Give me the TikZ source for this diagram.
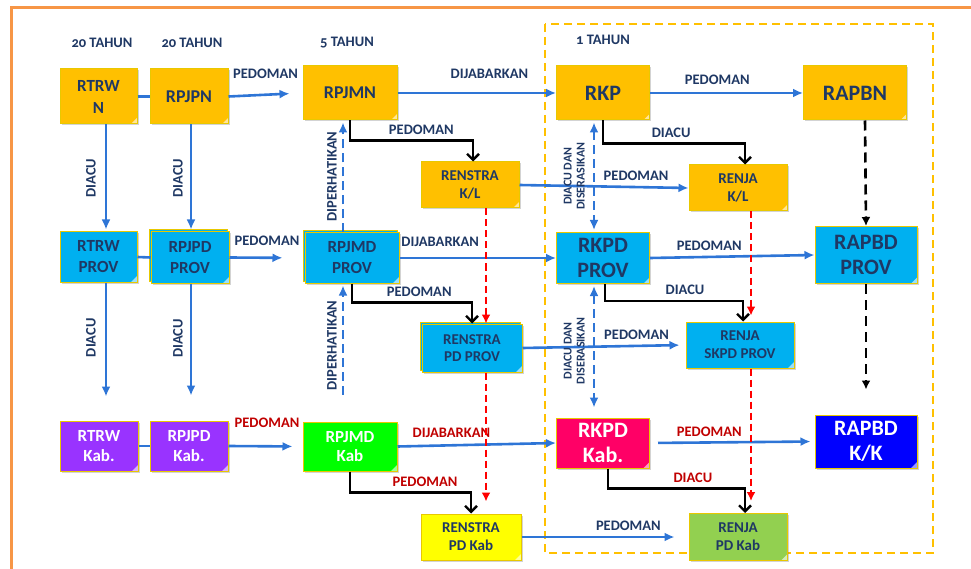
\documentclass[tikz,border=0pt]{standalone}
\usepackage{fontspec}
\setmainfont{Carlito}
\usepackage{xcolor}
\usetikzlibrary{arrows.meta}
\usetikzlibrary{shadows}
\definecolor{navy}{RGB}{31,56,100}
\definecolor{darkred}{RGB}{192,0,0}
\definecolor{frameorange}{RGB}{247,150,70}
\definecolor{goldfill}{RGB}{255,192,0}
\definecolor{cyanfill}{RGB}{0,176,240}
\definecolor{purplefill}{RGB}{153,51,255}
\definecolor{greenfill}{RGB}{0,255,0}
\definecolor{pinkfill}{RGB}{255,0,102}
\definecolor{bluefill}{RGB}{0,0,255}
\definecolor{limefill}{RGB}{146,208,80}
\definecolor{yellowfill}{RGB}{255,255,0}
\definecolor{boxedge}{RGB}{232,200,0}
\definecolor{arrowblue}{RGB}{46,117,214}

\begin{document}
\begin{tikzpicture}[
		x=1pt, y=-1pt,
		every node/.style={font=\bfseries},
		doc/.style={rectangle, draw=boxedge, line width=1pt, inner sep=0pt, align=center, text=navy,
				drop shadow={opacity=0.35, shadow xshift=1.5pt, shadow yshift=-1.5pt},
				path picture={\fill[white, opacity=0.6] ([xshift=-6pt]path picture bounding box.south east)
						-- ([yshift=6pt]path picture bounding box.south east) -- (path picture bounding box.south east) -- cycle;}},
		stacked/.style={copy shadow={shadow xshift=-2pt, shadow yshift=2pt}},
		boxdim/.style 2 args={minimum width=#1pt, minimum height=#2pt},
		fmid/.style={font=\bfseries\fontsize{17}{21}\selectfont},
		fbig/.style={font=\bfseries\fontsize{22}{25}\selectfont},
		fsmall/.style={font=\bfseries\fontsize{15}{18}\selectfont},
		title/.style={text=navy, font=\bfseries\fontsize{14.5}{16}\selectfont\addfontfeatures{Numbers=OldStyle}},
		lbl/.style={text=navy, inner sep=1pt, font=\bfseries\fontsize{14.5}{16}\selectfont},
		redlbl/.style={lbl, text=darkred},
		vlbl/.style={lbl, rotate=90, anchor=south},
		link/.style={arrowblue, line width=2.6pt},
		flow/.style={link, -{Latex[length=10pt,width=9pt]}},
		hint/.style={flow, dash pattern=on 9pt off 5pt},
		twoway/.style={hint, {Latex[length=10pt,width=9pt]}-{Latex[length=10pt,width=9pt]}},
		route/.style={black, line width=2.4pt, -{Straight Barb[length=6pt,width=12pt]}},
		reddash/.style={red, line width=2.6pt, dash pattern=on 7pt off 4pt, -{Latex[length=9pt,width=9pt]}},
		blackdash/.style={black, line width=2.6pt, dash pattern=on 10pt off 6pt, -{Latex[length=9pt,width=9pt]}}
	]
	\useasboundingbox (0,0) rectangle (971,569);

	% Frame
	\draw[frameorange, line width=3pt] (11,569) -- (11,8) -- (971,8);
	\draw[goldfill, line width=2.5pt, dash pattern=on 8pt off 5pt] (545,24) rectangle (933,553);

	% Period headers
	\node[title] (yearsa) at (102,43) {20 TAHUN};
	\node[title] (yearsb) at (192,43) {20 TAHUN};
	\node[title] (yearsc) at (347,43) {5 TAHUN};
	\node[title] (yearsd) at (603,40) {1 TAHUN};

	% National level
	\node[doc, fill=goldfill, boxdim={77}{55}, font=\bfseries\fontsize{17}{22}\selectfont] (rtrwn) at (98.5,96.5) {RTRW\\N};
	\node[doc, fill=goldfill, boxdim={78}{55}, font=\bfseries\fontsize{18}{21}\selectfont] (rpjpn) at (189,96.5) {RPJPN};
	\node[doc, fill=goldfill, boxdim={94}{54}, font=\bfseries\fontsize{18}{21}\selectfont] (rpjmn) at (350,93) {RPJMN};
	\node[doc, fill=goldfill, boxdim={93}{54}, fbig] (rkp) at (603,93) {RKP};
	\node[doc, fill=goldfill, boxdim={103}{54}, fbig] (rapbn) at (855,93) {RAPBN};
	\node[doc, fill=goldfill, boxdim={98}{46}, fsmall] (renstrakl) at (470,185) {RENSTRA\\K/L};
	\node[doc, fill=goldfill, boxdim={98}{46}, fsmall] (renjakl) at (738,188) {RENJA\\K/L};

	% Province level
	\node[doc, fill=cyanfill, boxdim={77}{50}, fmid] (rtrwprov) at (98.5,257) {RTRW\\PROV};
	\node[doc, stacked, fill=cyanfill, boxdim={78}{51}, fmid] (rpjpdprov) at (190,257.5) {RPJPD\\PROV};
	\node[doc, stacked, fill=cyanfill, boxdim={94}{50}, fmid] (rpjmdprov) at (352,258) {RPJMD\\PROV};
	\node[doc, fill=cyanfill, boxdim={93}{51}, fbig] (rkpdprov) at (603,258) {RKPD\\PROV};
	\node[doc, fill=cyanfill, boxdim={102}{57}, fbig] (rapbdprov) at (866,255) {RAPBD\\PROV};
	\node[doc, stacked, fill=cyanfill, boxdim={100}{48}, font=\bfseries\fontsize{15}{17.5}\selectfont] (renstrapdprov) at (472,348) {RENSTRA\\PD PROV};
	\node[doc, fill=cyanfill, boxdim={108}{46}, fsmall] (renjaskpd) at (740,345) {RENJA\\SKPD PROV};

	% Regency / city level
	\node[doc, fill=purplefill, text=white, boxdim={78}{50}, font=\bfseries\fontsize{17}{20}\selectfont] (rtrwkab) at (99,446) {RTRW\\Kab.};
	\node[doc, fill=purplefill, text=white, boxdim={78}{50}, font=\bfseries\fontsize{17}{20}\selectfont] (rpjpdkab) at (189,446) {RPJPD\\Kab.};
	\node[doc, fill=greenfill, text=white, boxdim={94}{49}, font=\bfseries\fontsize{17}{19}\selectfont] (rpjmdkab) at (350,446.5) {RPJMD\\Kab};
	\node[doc, fill=pinkfill, text=white, boxdim={93}{50}, fbig] (rkpdkab) at (603,443) {RKPD\\Kab.};
	\node[doc, fill=bluefill, text=white, boxdim={102}{53}, fbig] (rapbdkk) at (866,441.5) {RAPBD\\K/K};
	\node[doc, fill=yellowfill, boxdim={100}{46}, fsmall] (renstrapdkab) at (471,537) {RENSTRA\\PD Kab};
	\node[doc, fill=limefill, boxdim={98}{47}, fsmall] (renjapdkab) at (738,537) {RENJA\\PD Kab};

	% Plain links between long-term plans
	\draw[link] (rtrwn.east) -- (rpjpn.west);
	\draw[link] (rtrwprov.east) -- (rpjpdprov.west);
	\draw[link] (rtrwkab.east) -- (rpjpdkab.west);

	% Horizontal flows
	\draw[flow, shorten >=13pt] (rpjpn.east) -- (rpjmn.west) node[lbl, midway, above=14pt] {PEDOMAN};
	\draw[flow] (rpjmn.east) -- (rkp.west) node[lbl, pos=0.58, above=12pt] {DIJABARKAN};
	\draw[flow] (rkp.east) -- (rapbn.west) node[lbl, pos=0.44, above=6pt] {PEDOMAN};
	\draw[flow] (renstrakl.east) -- (renjakl.west) node[lbl, pos=0.69, above=4pt] {PEDOMAN};

	\draw[flow, shorten >=22pt] (rpjpdprov.east) -- (rpjmdprov.west) node[lbl, pos=0.5, above=10pt] {PEDOMAN};
	\draw[flow] (rpjmdprov.east) -- (rkpdprov.west) node[lbl, pos=0.26, above=9pt] {DIJABARKAN};
	\draw[flow] (rkpdprov.east) -- (rapbdprov.west) node[lbl, pos=0.36, above=4pt] {PEDOMAN};
	\draw[flow, shorten >=6pt] (renstrapdprov.east) -- (renjaskpd.west) node[lbl, pos=0.7, above=4pt] {PEDOMAN};

	\draw[flow, shorten >=10pt] (rpjpdkab.east) -- (rpjmdkab.west) node[redlbl, pos=0.52, above=16pt] {PEDOMAN};
	\draw[flow] (rpjmdkab.east) -- (rkpdkab.west) node[redlbl, pos=0.34, above=5pt] {DIJABARKAN};
	\draw[flow, shorten <=8pt, shorten >=4pt] (rkpdkab.east) -- (rapbdkk.west) node[redlbl, pos=0.36, above=4pt] {PEDOMAN};
	\draw[flow, shorten >=14pt] (renstrapdkab.east) -- (renjapdkab.west) node[lbl, pos=0.64, above=4pt] {PEDOMAN};

	% Vertical DIACU flows
	\draw[flow, shorten >=2pt] ([xshift=7.5pt]rtrwn.south) -- ([xshift=7.5pt]rtrwprov.north)
	node[vlbl, midway, inner sep=9pt] {DIACU};
	\draw[flow, shorten >=24pt] ([xshift=7.5pt]rtrwprov.south) -- ([xshift=7pt]rtrwkab.north)
	node[vlbl, pos=0.4, inner sep=9pt] {DIACU};
	\draw[flow, shorten >=2pt] ([xshift=2pt]rpjpn.south) -- ([xshift=1pt]rpjpdprov.north)
	node[vlbl, midway, inner sep=7pt] {DIACU};
	\draw[flow, shorten >=25pt] ([xshift=1pt]rpjpdprov.south) -- ([xshift=2pt]rpjpdkab.north)
	node[vlbl, pos=0.4, inner sep=7pt] {DIACU};

	% DIPERHATIKAN (upward, dashed)
	\draw[hint, shorten >=2pt] ([xshift=-9pt]rpjmdprov.north) -- ([xshift=-7pt]rpjmn.south)
	node[vlbl, midway, inner sep=5pt] {DIPERHATIKAN};
	\draw[hint, shorten <=27pt, shorten >=2pt] ([xshift=-7pt]rpjmdkab.north) -- ([xshift=-9pt]rpjmdprov.south)
	node[vlbl, pos=0.55, inner sep=5pt] {DIPERHATIKAN};

	% DIACU DAN DISERASIKAN (both ways, dashed)
	\draw[twoway, shorten <=2pt, shorten >=2pt] ([xshift=-9pt]rkp.south) -- ([xshift=-9pt]rkpdprov.north)
	node[vlbl, midway, inner sep=8pt, align=center, font=\bfseries\fontsize{12}{13}\selectfont] {DIACU DAN\\DISERASIKAN};
	\draw[twoway, shorten <=2pt, shorten >=10pt] ([xshift=-9pt]rkpdprov.south) -- ([xshift=-9pt]rkpdkab.north)
	node[vlbl, midway, inner sep=8pt, align=center, font=\bfseries\fontsize{12}{13}\selectfont] {DIACU DAN\\DISERASIKAN};

	% Elbow connectors
	\draw[route] (rpjmn.south) -- ++(0,20) -| ([xshift=3pt]renstrakl.north) node[lbl, pos=0.29, above=4pt] {PEDOMAN};
	\draw[route] (rkp.south) -- ++(0,23) -| ([xshift=7pt]renjakl.north) node[lbl, pos=0.24, above=4pt] {DIACU};
	\draw[route] (rpjmdprov.south) -- ++(0,19) -| (renstrapdprov.north) node[lbl, pos=0.28, above=4pt] {PEDOMAN};
	\draw[route] ([xshift=2pt]rkpdprov.south) -- ++(0,17) -| ([xshift=3pt]renjaskpd.north) node[lbl, pos=0.29, above=4pt] {DIACU};
	\draw[route] (rpjmdkab.south) -- ++(0,21) -| (renstrapdkab.north) node[redlbl, pos=0.31, above=4pt] {PEDOMAN};
	\draw[route] ([xshift=5pt]rkpdkab.south) -- ++(0,20) -| ([xshift=7pt]renjapdkab.north) node[redlbl, pos=0.31, above=4pt] {DIACU};

	% Red dashed cascades
	\draw[reddash] ([xshift=16pt]renstrakl.south) -- ([xshift=14pt]renstrapdprov.north);
	\draw[reddash, shorten >=12pt] ([xshift=14pt]renstrapdprov.south) -- ([xshift=15pt]renstrapdkab.north);
	\draw[reddash, shorten >=6pt] ([xshift=13pt]renjakl.south) -- ([xshift=11pt]renjaskpd.north);
	\draw[reddash, shorten >=12pt] ([xshift=11pt]renjaskpd.south) -- ([xshift=13pt]renjapdkab.north);

	% Budget cascade
	\draw[blackdash] ([xshift=10pt]rapbn.south) -- (rapbdprov.north);
	\draw[blackdash, shorten >=25pt] (rapbdprov.south) -- (rapbdkk.north);

\end{tikzpicture}
\end{document}
